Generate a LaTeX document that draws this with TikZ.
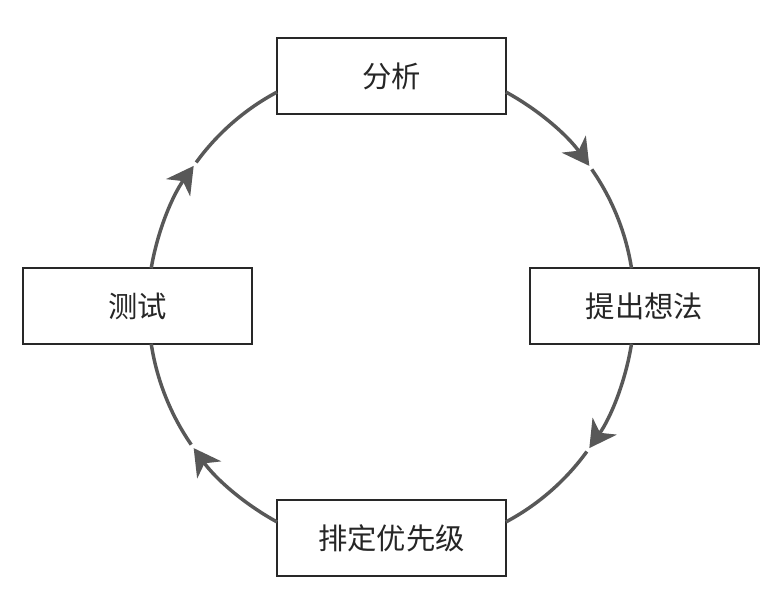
\documentclass[tikz,border=0pt]{standalone}
\usepackage{fontspec}
\newfontfamily\cjk{Noto Sans CJK SC}
\usetikzlibrary{arrows.meta}
\definecolor{arcgray}{RGB}{88,88,88}
\definecolor{boxgray}{RGB}{40,40,40}
\tikzset{
  stagebox/.style={draw=boxgray, line width=1.4pt, fill=white, outer sep=0pt, inner sep=0pt,
    minimum width=171.75pt, minimum height=56.5pt, text=black!85,
    font=\cjk\fontsize{22}{22}\selectfont},
  flow/.style={draw=arcgray, line width=2.6pt, bend left=13, looseness=0.86},
  flowtip/.style={flow, -{Stealth[length=20pt,width=22pt,inset=6pt]}}
}
\begin{document}
\begin{tikzpicture}[x=0.75pt,y=0.75pt]
    \useasboundingbox (-391.5,-283) rectangle (390.5,307);

    \node[stagebox] (analysis) at (0,231)   {分析};
    \node[stagebox] (ideas)    at (253,1)   {提出想法};
    \node[stagebox] (prio)     at (0,-231)  {排定优先级};
    \node[stagebox] (test)     at (-254,1)  {测试};

    % arrow tips and gaps on the cycle (radius 243)
    \foreach \a/\name in {35.5/m1, 34.5/n1, -35.5/m2, -36.5/n2,
                          215.5/m3, 214.5/n3, 144.5/m4, 143.5/n4}
        \coordinate (\name) at (\a:243);

    \draw[flowtip] (analysis.-8) to (m1);
    \draw[flow]    (n1) to (ideas.109);

    \draw[flowtip] (ideas.-109) to (m2);
    \draw[flow]    (n2) to (prio.8);

    \draw[flowtip] (prio.172) to (m3);
    \draw[flow]    (n3) to (test.-70);

    \draw[flowtip] (test.70) to (m4);
    \draw[flow]    (n4) to (analysis.188);
\end{tikzpicture}
\end{document}
